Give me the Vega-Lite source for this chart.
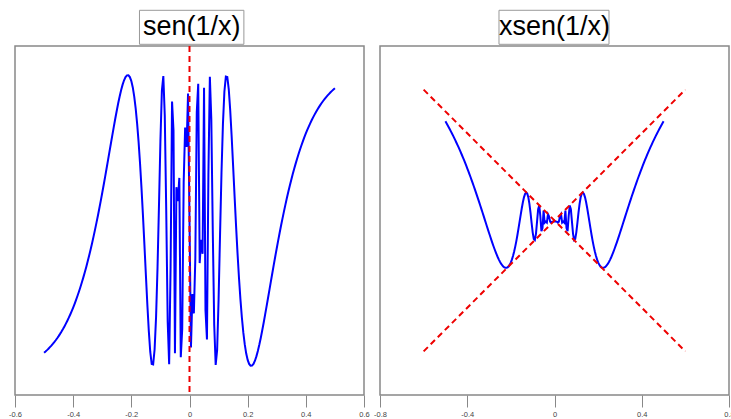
{
  "$schema": "https://vega.github.io/schema/vega-lite/v6.json",
  "background": "white",
  "padding": {"left": 7, "top": 9, "right": 0, "bottom": 0},
  "spacing": 16,
  "bounds": "flush",
  "config": {"view": {"stroke": "#888", "strokeWidth": 1.5}},
  "datasets": {
    "curve": [
      {"x": -0.5, "s": -0.9093, "g": 0.4546},
      {"x": -0.495, "s": -0.9006, "g": 0.4458},
      {"x": -0.49, "s": -0.8914, "g": 0.4368},
      {"x": -0.485, "s": -0.8817, "g": 0.4276},
      {"x": -0.48, "s": -0.8711, "g": 0.4181},
      {"x": -0.475, "s": -0.8602, "g": 0.4086},
      {"x": -0.47, "s": -0.8487, "g": 0.3989},
      {"x": -0.465, "s": -0.8365, "g": 0.389},
      {"x": -0.46, "s": -0.8235, "g": 0.3788},
      {"x": -0.455, "s": -0.8097, "g": 0.3684},
      {"x": -0.45, "s": -0.7952, "g": 0.3578},
      {"x": -0.445, "s": -0.7798, "g": 0.347},
      {"x": -0.44, "s": -0.7636, "g": 0.336},
      {"x": -0.435, "s": -0.7464, "g": 0.3247},
      {"x": -0.43, "s": -0.7283, "g": 0.3132},
      {"x": -0.425, "s": -0.7093, "g": 0.3015},
      {"x": -0.42, "s": -0.6893, "g": 0.2895},
      {"x": -0.415, "s": -0.6684, "g": 0.2774},
      {"x": -0.41, "s": -0.6462, "g": 0.2649},
      {"x": -0.405, "s": -0.623, "g": 0.2523},
      {"x": -0.4, "s": -0.5985, "g": 0.2394},
      {"x": -0.395, "s": -0.5729, "g": 0.2263},
      {"x": -0.39, "s": -0.5459, "g": 0.2129},
      {"x": -0.385, "s": -0.5177, "g": 0.1993},
      {"x": -0.38, "s": -0.4882, "g": 0.1855},
      {"x": -0.375, "s": -0.4573, "g": 0.1715},
      {"x": -0.37, "s": -0.4249, "g": 0.1572},
      {"x": -0.365, "s": -0.3912, "g": 0.1428},
      {"x": -0.36, "s": -0.3558, "g": 0.1281},
      {"x": -0.355, "s": -0.319, "g": 0.1132},
      {"x": -0.35, "s": -0.2807, "g": 0.0982},
      {"x": -0.345, "s": -0.2406, "g": 0.083},
      {"x": -0.34, "s": -0.1991, "g": 0.0677},
      {"x": -0.335, "s": -0.1559, "g": 0.0522},
      {"x": -0.33, "s": -0.1111, "g": 0.0367},
      {"x": -0.325, "s": -0.0646, "g": 0.021},
      {"x": -0.32, "s": -0.0166, "g": 0.0053},
      {"x": -0.315, "s": 0.033, "g": -0.0104},
      {"x": -0.31, "s": 0.0841, "g": -0.0261},
      {"x": -0.305, "s": 0.1367, "g": -0.0417},
      {"x": -0.3, "s": 0.1905, "g": -0.0572},
      {"x": -0.295, "s": 0.2457, "g": -0.0725},
      {"x": -0.29, "s": 0.3019, "g": -0.0876},
      {"x": -0.285, "s": 0.359, "g": -0.1023},
      {"x": -0.28, "s": 0.4167, "g": -0.1167},
      {"x": -0.275, "s": 0.4749, "g": -0.1306},
      {"x": -0.27, "s": 0.5329, "g": -0.1439},
      {"x": -0.265, "s": 0.5907, "g": -0.1565},
      {"x": -0.26, "s": 0.6476, "g": -0.1684},
      {"x": -0.255, "s": 0.7033, "g": -0.1793},
      {"x": -0.25, "s": 0.7568, "g": -0.1892},
      {"x": -0.245, "s": 0.8076, "g": -0.1979},
      {"x": -0.24, "s": 0.8549, "g": -0.2052},
      {"x": -0.235, "s": 0.8973, "g": -0.2109},
      {"x": -0.23, "s": 0.9344, "g": -0.2149},
      {"x": -0.225, "s": 0.9643, "g": -0.217},
      {"x": -0.22, "s": 0.986, "g": -0.2169},
      {"x": -0.215, "s": 0.9981, "g": -0.2146},
      {"x": -0.21, "s": 0.9988, "g": -0.2097},
      {"x": -0.205, "s": 0.9862, "g": -0.2022},
      {"x": -0.2, "s": 0.9589, "g": -0.1918},
      {"x": -0.195, "s": 0.9149, "g": -0.1784},
      {"x": -0.19, "s": 0.8521, "g": -0.1619},
      {"x": -0.185, "s": 0.7696, "g": -0.1424},
      {"x": -0.18, "s": 0.6651, "g": -0.1197},
      {"x": -0.175, "s": 0.5386, "g": -0.0943},
      {"x": -0.17, "s": 0.3902, "g": -0.0663},
      {"x": -0.165, "s": 0.2208, "g": -0.0364},
      {"x": -0.16, "s": 0.0332, "g": -0.0053},
      {"x": -0.155, "s": -0.1676, "g": 0.026},
      {"x": -0.15, "s": -0.3742, "g": 0.0561},
      {"x": -0.145, "s": -0.5756, "g": 0.0835},
      {"x": -0.14, "s": -0.7576, "g": 0.1061},
      {"x": -0.135, "s": -0.9022, "g": 0.1218},
      {"x": -0.13, "s": -0.9868, "g": 0.1283},
      {"x": -0.125, "s": -0.9894, "g": 0.1237},
      {"x": -0.12, "s": -0.8872, "g": 0.1065},
      {"x": -0.115, "s": -0.6663, "g": 0.0766},
      {"x": -0.11, "s": -0.3277, "g": 0.036},
      {"x": -0.105, "s": 0.0988, "g": -0.0104},
      {"x": -0.1, "s": 0.544, "g": -0.0544},
      {"x": -0.095, "s": 0.8918, "g": -0.0847},
      {"x": -0.09, "s": 0.9933, "g": -0.0894},
      {"x": -0.085, "s": 0.7186, "g": -0.0611},
      {"x": -0.08, "s": 0.0663, "g": -0.0053},
      {"x": -0.075, "s": -0.694, "g": 0.0521},
      {"x": -0.07, "s": -0.989, "g": 0.0692},
      {"x": -0.065, "s": -0.3178, "g": 0.0207},
      {"x": -0.06, "s": 0.8183, "g": -0.0491},
      {"x": -0.055, "s": 0.6193, "g": -0.0341},
      {"x": -0.05, "s": -0.9129, "g": 0.0456},
      {"x": -0.045, "s": 0.229, "g": -0.0103},
      {"x": -0.04, "s": 0.1324, "g": -0.0053},
      {"x": -0.035, "s": 0.2928, "g": -0.0102},
      {"x": -0.03, "s": -0.9406, "g": 0.0282},
      {"x": -0.025, "s": -0.7451, "g": 0.0186},
      {"x": -0.02, "s": 0.2624, "g": -0.0052},
      {"x": -0.015, "s": 0.6388, "g": -0.0096},
      {"x": -0.01, "s": 0.5064, "g": -0.0051},
      {"x": -0.005, "s": 0.8733, "g": -0.0044},
      {"x": 0.005, "s": -0.8733, "g": -0.0044},
      {"x": 0.01, "s": -0.5064, "g": -0.0051},
      {"x": 0.015, "s": -0.6388, "g": -0.0096},
      {"x": 0.02, "s": -0.2624, "g": -0.0052},
      {"x": 0.025, "s": 0.7451, "g": 0.0186},
      {"x": 0.03, "s": 0.9406, "g": 0.0282},
      {"x": 0.035, "s": -0.2928, "g": -0.0102},
      {"x": 0.04, "s": -0.1324, "g": -0.0053},
      {"x": 0.045, "s": -0.229, "g": -0.0103},
      {"x": 0.05, "s": 0.9129, "g": 0.0456},
      {"x": 0.055, "s": -0.6193, "g": -0.0341},
      {"x": 0.06, "s": -0.8183, "g": -0.0491},
      {"x": 0.065, "s": 0.3178, "g": 0.0207},
      {"x": 0.07, "s": 0.989, "g": 0.0692},
      {"x": 0.075, "s": 0.694, "g": 0.0521},
      {"x": 0.08, "s": -0.0663, "g": -0.0053},
      {"x": 0.085, "s": -0.7186, "g": -0.0611},
      {"x": 0.09, "s": -0.9933, "g": -0.0894},
      {"x": 0.095, "s": -0.8918, "g": -0.0847},
      {"x": 0.1, "s": -0.544, "g": -0.0544},
      {"x": 0.105, "s": -0.0988, "g": -0.0104},
      {"x": 0.11, "s": 0.3277, "g": 0.036},
      {"x": 0.115, "s": 0.6663, "g": 0.0766},
      {"x": 0.12, "s": 0.8872, "g": 0.1065},
      {"x": 0.125, "s": 0.9894, "g": 0.1237},
      {"x": 0.13, "s": 0.9868, "g": 0.1283},
      {"x": 0.135, "s": 0.9022, "g": 0.1218},
      {"x": 0.14, "s": 0.7576, "g": 0.1061},
      {"x": 0.145, "s": 0.5756, "g": 0.0835},
      {"x": 0.15, "s": 0.3742, "g": 0.0561},
      {"x": 0.155, "s": 0.1676, "g": 0.026},
      {"x": 0.16, "s": -0.0332, "g": -0.0053},
      {"x": 0.165, "s": -0.2208, "g": -0.0364},
      {"x": 0.17, "s": -0.3902, "g": -0.0663},
      {"x": 0.175, "s": -0.5386, "g": -0.0943},
      {"x": 0.18, "s": -0.6651, "g": -0.1197},
      {"x": 0.185, "s": -0.7696, "g": -0.1424},
      {"x": 0.19, "s": -0.8521, "g": -0.1619},
      {"x": 0.195, "s": -0.9149, "g": -0.1784},
      {"x": 0.2, "s": -0.9589, "g": -0.1918},
      {"x": 0.205, "s": -0.9862, "g": -0.2022},
      {"x": 0.21, "s": -0.9988, "g": -0.2097},
      {"x": 0.215, "s": -0.9981, "g": -0.2146},
      {"x": 0.22, "s": -0.986, "g": -0.2169},
      {"x": 0.225, "s": -0.9643, "g": -0.217},
      {"x": 0.23, "s": -0.9344, "g": -0.2149},
      {"x": 0.235, "s": -0.8973, "g": -0.2109},
      {"x": 0.24, "s": -0.8549, "g": -0.2052},
      {"x": 0.245, "s": -0.8076, "g": -0.1979},
      {"x": 0.25, "s": -0.7568, "g": -0.1892},
      {"x": 0.255, "s": -0.7033, "g": -0.1793},
      {"x": 0.26, "s": -0.6476, "g": -0.1684},
      {"x": 0.265, "s": -0.5907, "g": -0.1565},
      {"x": 0.27, "s": -0.5329, "g": -0.1439},
      {"x": 0.275, "s": -0.4749, "g": -0.1306},
      {"x": 0.28, "s": -0.4167, "g": -0.1167},
      {"x": 0.285, "s": -0.359, "g": -0.1023},
      {"x": 0.29, "s": -0.3019, "g": -0.0876},
      {"x": 0.295, "s": -0.2457, "g": -0.0725},
      {"x": 0.3, "s": -0.1905, "g": -0.0572},
      {"x": 0.305, "s": -0.1367, "g": -0.0417},
      {"x": 0.31, "s": -0.0841, "g": -0.0261},
      {"x": 0.315, "s": -0.033, "g": -0.0104},
      {"x": 0.32, "s": 0.0166, "g": 0.0053},
      {"x": 0.325, "s": 0.0646, "g": 0.021},
      {"x": 0.33, "s": 0.1111, "g": 0.0367},
      {"x": 0.335, "s": 0.1559, "g": 0.0522},
      {"x": 0.34, "s": 0.1991, "g": 0.0677},
      {"x": 0.345, "s": 0.2406, "g": 0.083},
      {"x": 0.35, "s": 0.2807, "g": 0.0982},
      {"x": 0.355, "s": 0.319, "g": 0.1132},
      {"x": 0.36, "s": 0.3558, "g": 0.1281},
      {"x": 0.365, "s": 0.3912, "g": 0.1428},
      {"x": 0.37, "s": 0.4249, "g": 0.1572},
      {"x": 0.375, "s": 0.4573, "g": 0.1715},
      {"x": 0.38, "s": 0.4882, "g": 0.1855},
      {"x": 0.385, "s": 0.5177, "g": 0.1993},
      {"x": 0.39, "s": 0.5459, "g": 0.2129},
      {"x": 0.395, "s": 0.5729, "g": 0.2263},
      {"x": 0.4, "s": 0.5985, "g": 0.2394},
      {"x": 0.405, "s": 0.623, "g": 0.2523},
      {"x": 0.41, "s": 0.6462, "g": 0.2649},
      {"x": 0.415, "s": 0.6684, "g": 0.2774},
      {"x": 0.42, "s": 0.6893, "g": 0.2895},
      {"x": 0.425, "s": 0.7093, "g": 0.3015},
      {"x": 0.43, "s": 0.7283, "g": 0.3132},
      {"x": 0.435, "s": 0.7464, "g": 0.3247},
      {"x": 0.44, "s": 0.7636, "g": 0.336},
      {"x": 0.445, "s": 0.7798, "g": 0.347},
      {"x": 0.45, "s": 0.7952, "g": 0.3578},
      {"x": 0.455, "s": 0.8097, "g": 0.3684},
      {"x": 0.46, "s": 0.8235, "g": 0.3788},
      {"x": 0.465, "s": 0.8365, "g": 0.389},
      {"x": 0.47, "s": 0.8487, "g": 0.3989},
      {"x": 0.475, "s": 0.8602, "g": 0.4086},
      {"x": 0.48, "s": 0.8711, "g": 0.4181},
      {"x": 0.485, "s": 0.8817, "g": 0.4276},
      {"x": 0.49, "s": 0.8914, "g": 0.4368},
      {"x": 0.495, "s": 0.9006, "g": 0.4458},
      {"x": 0.5, "s": 0.9093, "g": 0.4546}
    ],
    "bounds": [
      {"x": -0.6, "y": -0.6, "line": "a"},
      {"x": 0.6, "y": 0.6, "line": "a"},
      {"x": -0.6, "y": 0.6, "line": "b"},
      {"x": 0.6, "y": -0.6, "line": "b"}
    ]
  },
  "hconcat": [
    {
      "width": 349,
      "height": 349,
      "layer": [
        {
          "data": {"name": "curve"},
          "mark": {"type": "line", "color": "#0000ff", "strokeWidth": 2},
          "encoding": {
            "x": {
              "field": "x", "type": "quantitative",
              "scale": {"domain": [-0.6, 0.6]},
              "axis": {
                "values": [-0.6, -0.4, -0.2, 0, 0.2, 0.4, 0.6],
                "title": null, "domain": false, "grid": false,
                "tickSize": 12, "tickColor": "#888", "tickWidth": 1,
                "labelFontSize": 7.5, "labelColor": "#444", "labelPadding": 3,
                "labelFont": "Liberation Sans", "labelFlush": false, "labelOverlap": false,
                "labelExpr": "datum.value == 0 ? '0' : (datum.value < 0 ? '-' : '') + format(abs(datum.value), '.1f')"
              }
            },
            "y": {"field": "s", "type": "quantitative", "scale": {"domain": [-1.2, 1.2]}, "axis": null}
          }
        },
        {
          "data": {"values": [{}]},
          "mark": {"type": "rule", "color": "#ee0000", "strokeWidth": 2, "strokeDash": [6, 4]},
          "encoding": {"x": {"datum": 0, "type": "quantitative", "scale": {"domain": [-0.6, 0.6]}, "title": null}}
        },
        {
          "data": {"values": [{}]},
          "mark": {"type": "rect", "fill": "white", "stroke": "#999", "strokeWidth": 1},
          "encoding": {
            "x": {"datum": -0.172, "type": "quantitative", "scale": {"domain": [-0.6, 0.6]}, "title": null},
            "x2": {"datum": 0.187},
            "y": {"datum": 1.4455, "type": "quantitative", "scale": {"domain": [-1.2, 1.2]}, "axis": null},
            "y2": {"datum": 1.2117}
          }
        },
        {
          "data": {"values": [{}]},
          "mark": {"type": "text", "text": "sen(1/x)", "font": "Liberation Sans", "fontSize": 27, "color": "black", "align": "center", "baseline": "middle"},
          "encoding": {
            "x": {"datum": 0.008, "type": "quantitative", "scale": {"domain": [-0.6, 0.6]}, "title": null},
            "y": {"datum": 1.3286, "type": "quantitative", "scale": {"domain": [-1.2, 1.2]}, "axis": null}
          }
        }
      ]
    },
    {
      "width": 349,
      "height": 349,
      "layer": [
        {
          "data": {"name": "curve"},
          "mark": {"type": "line", "color": "#0000ff", "strokeWidth": 2},
          "encoding": {
            "x": {
              "field": "x", "type": "quantitative",
              "scale": {"domain": [-0.8, 0.8]},
              "axis": {
                "values": [-0.8, -0.4, 0, 0.4, 0.8],
                "title": null, "domain": false, "grid": false,
                "tickSize": 12, "tickColor": "#888", "tickWidth": 1,
                "labelFontSize": 7.5, "labelColor": "#444", "labelPadding": 3,
                "labelFont": "Liberation Sans", "labelFlush": false, "labelOverlap": false,
                "labelExpr": "datum.value == 0 ? '0' : (datum.value < 0 ? '-' : '') + format(abs(datum.value), '.1f')"
              }
            },
            "y": {"field": "g", "type": "quantitative", "scale": {"domain": [-0.8, 0.8]}, "axis": null}
          }
        },
        {
          "data": {"name": "bounds"},
          "mark": {"type": "line", "color": "#ee0000", "strokeWidth": 2, "strokeDash": [6, 4]},
          "encoding": {
            "x": {"field": "x", "type": "quantitative", "scale": {"domain": [-0.8, 0.8]}, "title": null},
            "y": {"field": "y", "type": "quantitative", "scale": {"domain": [-0.8, 0.8]}, "axis": null},
            "detail": {"field": "line"}
          }
        },
        {
          "data": {"values": [{}]},
          "mark": {"type": "rect", "fill": "white", "stroke": "#999", "strokeWidth": 1},
          "encoding": {
            "x": {"datum": -0.2545, "type": "quantitative", "scale": {"domain": [-0.8, 0.8]}, "title": null},
            "x2": {"datum": 0.2499},
            "y": {"datum": 0.9637, "type": "quantitative", "scale": {"domain": [-0.8, 0.8]}, "axis": null},
            "y2": {"datum": 0.8078}
          }
        },
        {
          "data": {"values": [{}]},
          "mark": {"type": "text", "text": "xsen(1/x)", "font": "Liberation Sans", "fontSize": 27, "color": "black", "align": "center", "baseline": "middle"},
          "encoding": {
            "x": {"datum": 0, "type": "quantitative", "scale": {"domain": [-0.8, 0.8]}, "title": null},
            "y": {"datum": 0.8857, "type": "quantitative", "scale": {"domain": [-0.8, 0.8]}, "axis": null}
          }
        }
      ]
    }
  ]
}
